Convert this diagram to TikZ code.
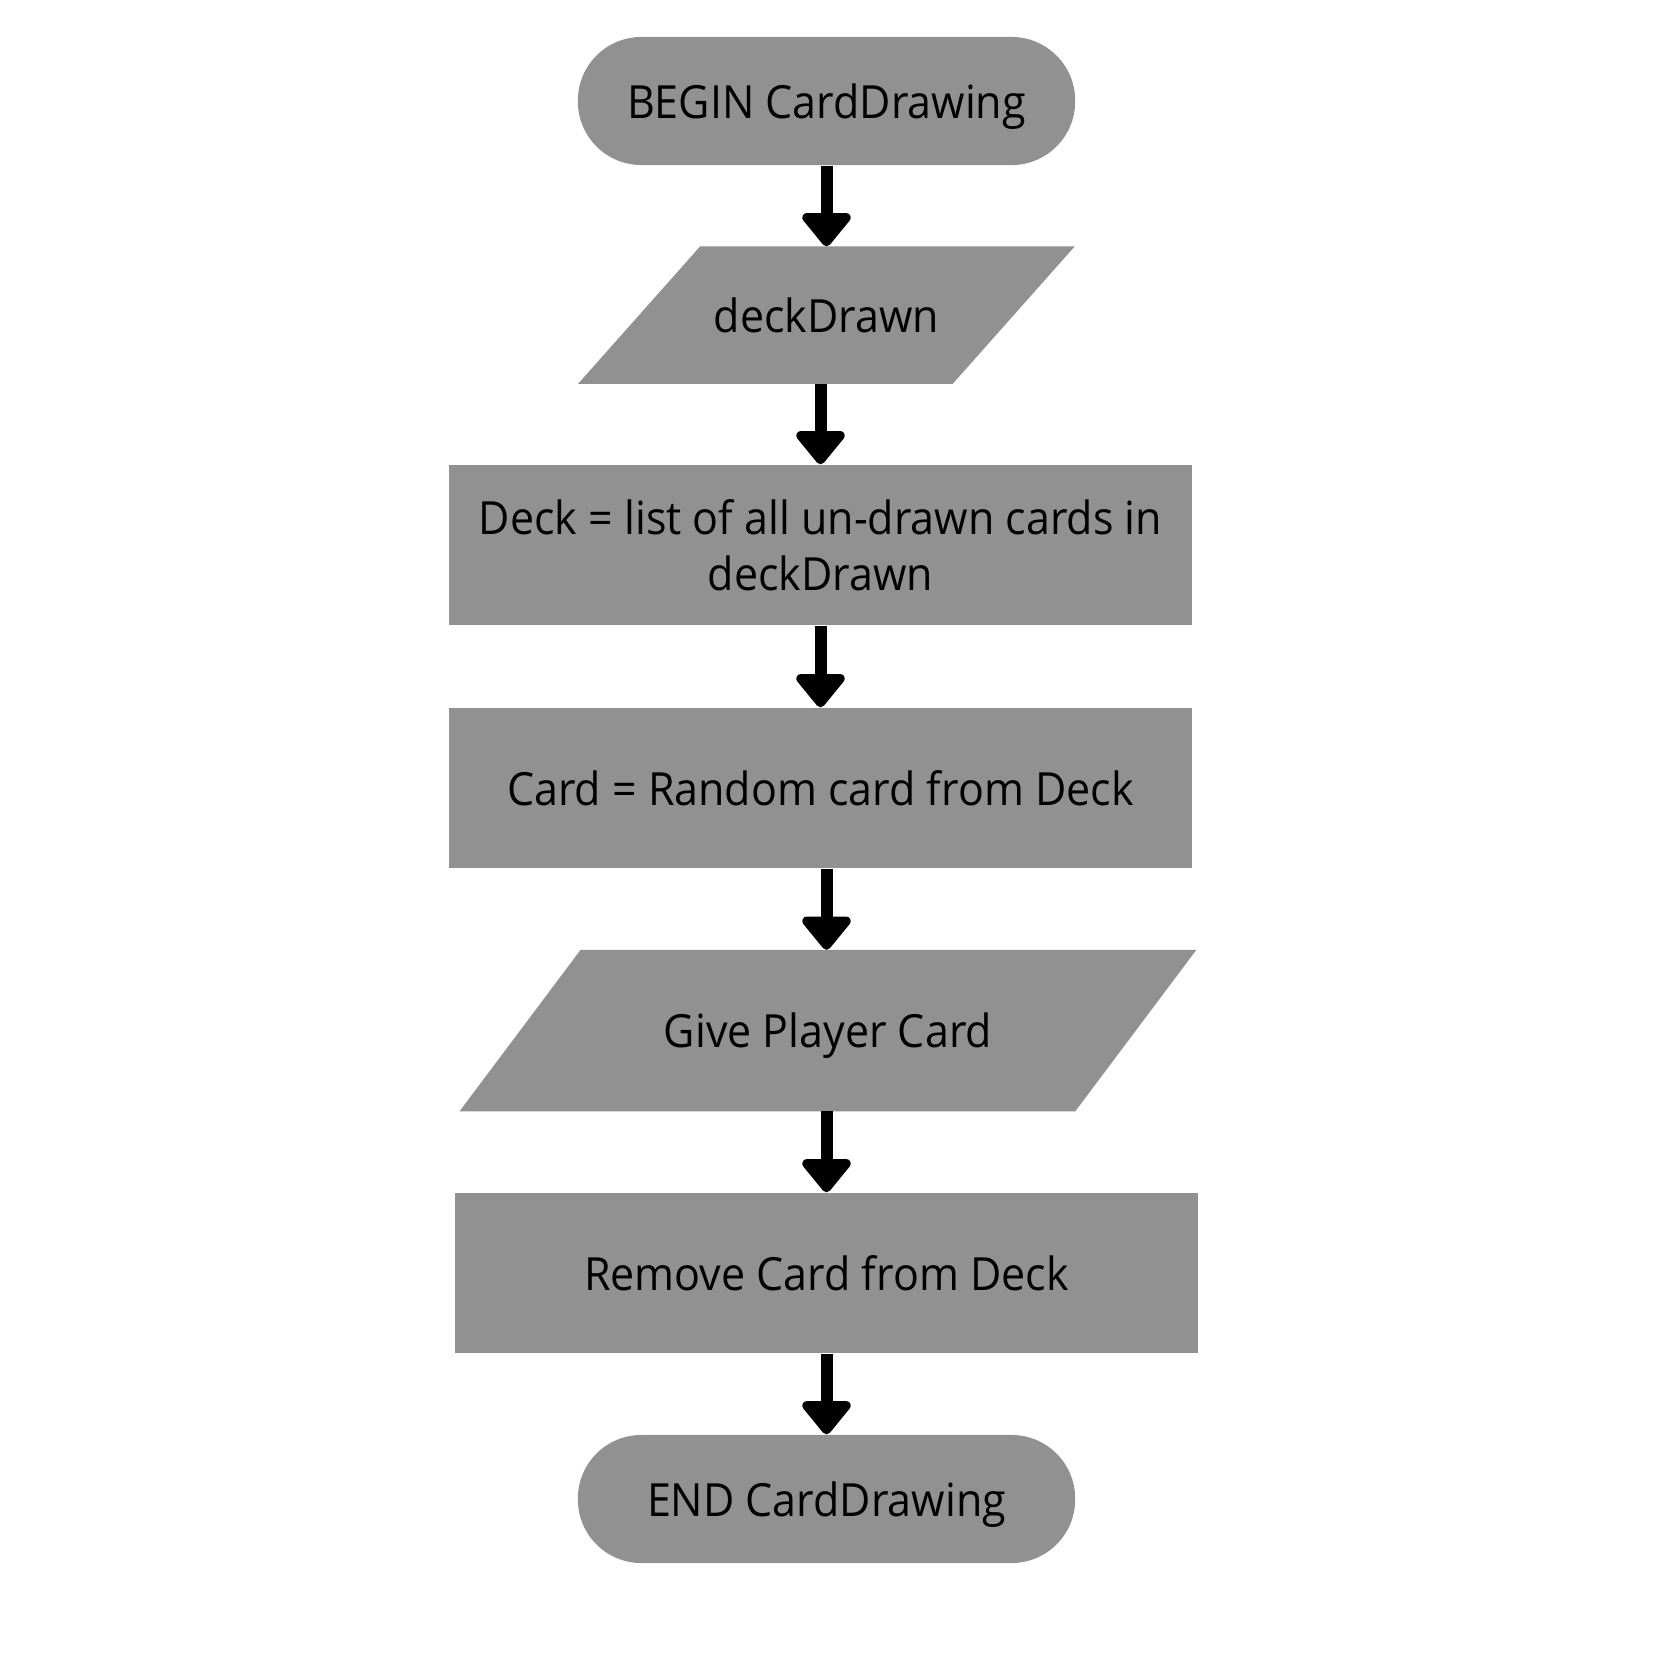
\documentclass[tikz,border=0pt]{standalone}
\usepackage{fontspec}
\setmainfont{Open Sans}[FakeStretch=0.94]
\usetikzlibrary{arrows.meta,backgrounds}
\definecolor{boxgray}{RGB}{145,145,145}

\begin{document}
\begin{tikzpicture}[x=0.01cm,y=-0.01cm,
  every node/.style={fill=boxgray,inner sep=0pt,align=center,text depth=0pt,
    font=\fontsize{13}{15.9}\selectfont},
  term/.style={rectangle,rounded corners=0.635cm,minimum width=4.97cm,minimum height=1.28cm},
  proc/.style={rectangle,minimum width=7.43cm,minimum height=1.6cm},
  io/.style={rectangle,fill=none},
  flow/.style={line width=0.12cm,-{Triangle[width=0.56cm,length=0.36cm,round]}}]
\useasboundingbox (0,0) rectangle (1654,1654);
\path (826.5,101) node(a)[term]{BEGIN CardDrawing}
(826.5,315) node(b)[io,minimum width=4.95cm,minimum height=1.36cm]{deckDrawn}
(820.5,545) node(c)[proc]{Deck = list of all un-drawn cards in\\ deckDrawn}
(820.5,788) node(d)[proc]{Card = Random card from Deck}
(828,1030.5) node(e)[io,minimum width=7.35cm,minimum height=1.6cm]{Give Player Card}
(826.5,1273) node(f)[proc]{Remove Card from Deck}
(826.5,1499) node(g)[term]{END CardDrawing};
% slanted input/output boxes
\begin{scope}[on background layer]
\fill[boxgray](b.south west)--([xshift=-1.22cm]b.south east)--(b.north east)--([xshift=1.22cm]b.north west)--cycle;
\fill[boxgray](e.south west)--([xshift=-1.21cm]e.south east)--(e.north east)--([xshift=1.21cm]e.north west)--cycle;
\end{scope}
\draw[flow](b.north |- a.south)--(b.north);
\draw[flow](c.north |- b.south)--(c.north);
\draw[flow](d.north |- c.south)--(d.north);
\draw[flow](f.north |- d.south)--(f.north |- e.north);
\draw[flow](f.north |- e.south)--(f.north);
\draw[flow](g.north |- f.south)--(g.north);
\end{tikzpicture}
\end{document}
